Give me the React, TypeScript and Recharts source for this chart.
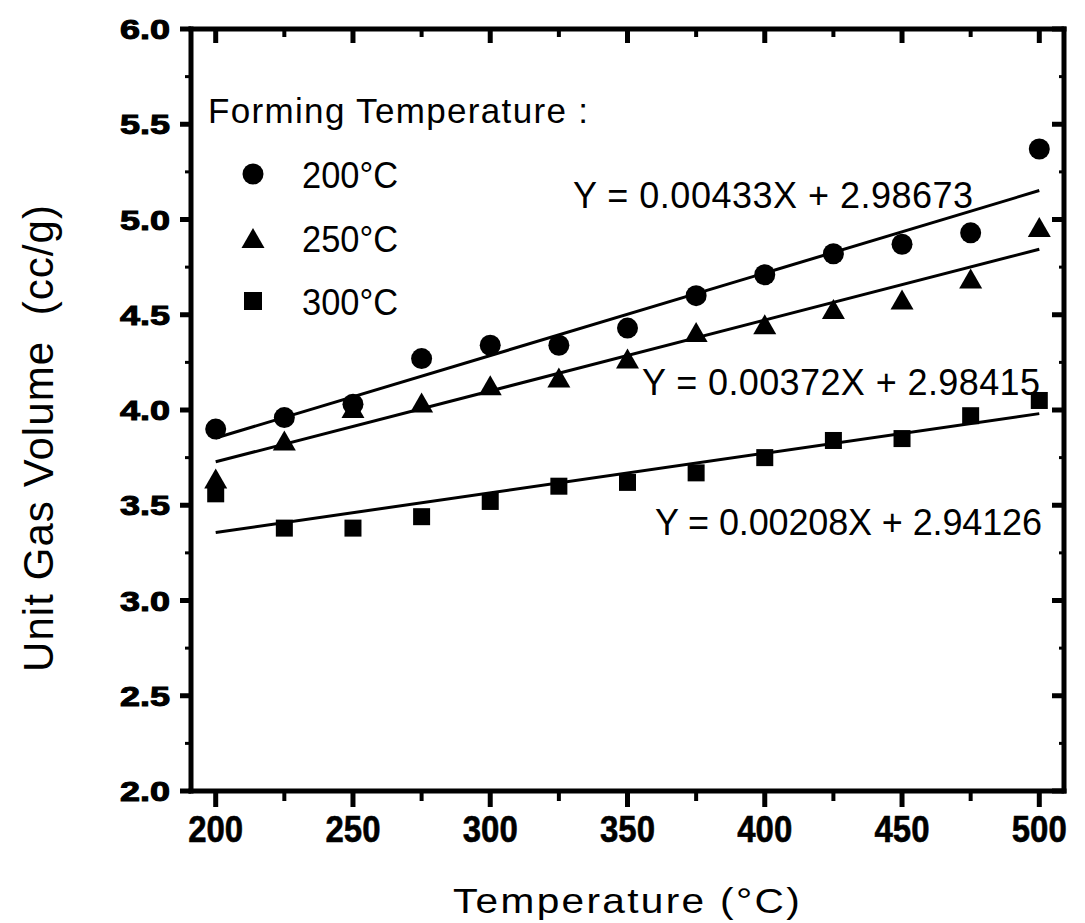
import React from 'react';
import { ComposedChart, XAxis, YAxis, Line, Scatter, Legend } from 'recharts';

// ---------------- data ----------------
const temperatures = [200, 225, 250, 275, 300, 325, 350, 375, 400, 425, 450, 475, 500];
const volume200 = [3.9, 3.96, 4.03, 4.27, 4.34, 4.34, 4.43, 4.6, 4.71, 4.82, 4.87, 4.93, 5.37];
const volume250 = [3.64, 3.84, 4.01, 4.04, 4.13, 4.17, 4.27, 4.41, 4.45, 4.53, 4.58, 4.69, 4.96];
const volume300 = [3.56, 3.38, 3.38, 3.44, 3.52, 3.6, 3.62, 3.67, 3.75, 3.84, 3.85, 3.97, 4.05];

const fitX = [200, 500];
const fit200Y = [3.853, 5.152];
const fit250Y = [3.728, 4.844];
const fit300Y = [3.357, 3.981];

const xTicks = [200, 225, 250, 275, 300, 325, 350, 375, 400, 425, 450, 475, 500];
const yTicks = [2, 2.25, 2.5, 2.75, 3, 3.25, 3.5, 3.75, 4, 4.25, 4.5, 4.75, 5, 5.25, 5.5, 5.75, 6];
const xDomain = [191, 509];
const yDomain = [2, 6];

const seriesNames = ['200°C', '250°C', '300°C'];
const legendTitle = 'Forming Temperature :';
const equations = ['Y = 0.00433X + 2.98673', 'Y = 0.00372X + 2.98415', 'Y = 0.00208X + 2.94126'];
const xTitle = 'Temperature (°C)';
const yTitle = 'Unit Gas Volume  (cc/g)';

const toPoints = (xs: number[], ys: number[]) => xs.map((x, i) => ({ x, y: ys[i] }));
const s200 = toPoints(temperatures, volume200);
const s250 = toPoints(temperatures, volume250);
const s300 = toPoints(temperatures, volume300);
const f200 = toPoints(fitX, fit200Y);
const f250 = toPoints(fitX, fit250Y);
const f300 = toPoints(fitX, fit300Y);

// ---------------- styles ----------------
const W = 1077;
const H = 915;
const BLACK = '#000';
const textFont = '"Liberation Sans", Arial, Helvetica, sans-serif';
const tickFont = '"Liberation Sans Narrow", "Liberation Sans", Arial, sans-serif';
const axisLineStyle = { stroke: BLACK, strokeWidth: 5, strokeLinecap: 'square' as const };

const isMajorX = (v: number) => Math.abs(v % 50) < 1e-6;
const isMajorY = (v: number) => Math.abs(v * 2 - Math.round(v * 2)) < 1e-6;

// ---------------- ticks ----------------
const BottomTick = (props: any) => {
  const { x, y, payload } = props;
  const v = payload.value;
  const major = isMajorX(v);
  return (
    <g>
      <line x1={x} y1={y} x2={x} y2={y + (major ? 16 : 10)} stroke={BLACK} strokeWidth={major ? 5 : 4} />
      {major && (
        <text x={x} y={y + 51} textAnchor="middle" fontFamily={tickFont} fontWeight="bold" fontSize={37}
          fill={BLACK} stroke={BLACK} strokeWidth={0.6} textLength={55} lengthAdjust="spacingAndGlyphs">{v}</text>
      )}
    </g>
  );
};

const TopTick = (props: any) => {
  const { x, y, payload } = props;
  const major = isMajorX(payload.value);
  return <line x1={x} y1={y} x2={x} y2={y + (major ? 14 : 8)} stroke={BLACK} strokeWidth={major ? 5 : 4} />;
};

const LeftTick = (props: any) => {
  const { x, y, payload } = props;
  const v = payload.value;
  const major = isMajorY(v);
  return (
    <g>
      <line x1={x} y1={y} x2={x - (major ? 11 : 6)} y2={y} stroke={BLACK} strokeWidth={major ? 5 : 3} />
      {major && (
        <text x={x - 21} y={y + 10} textAnchor="end" fontFamily={textFont} fontWeight="bold" fontSize={27}
          fill={BLACK} stroke={BLACK} strokeWidth={1} textLength={50} lengthAdjust="spacingAndGlyphs">{v.toFixed(1)}</text>
      )}
    </g>
  );
};

const RightTick = (props: any) => {
  const { x, y, payload } = props;
  const major = isMajorY(payload.value);
  return <line x1={x} y1={y} x2={x - (major ? 12 : 5)} y2={y} stroke={BLACK} strokeWidth={major ? 5 : 3} />;
};

// ---------------- markers ----------------
const CircleMark = (p: any) => <circle cx={p.cx} cy={p.cy} r={10.5} fill={BLACK} />;
const TriangleMark = (p: any) => (
  <polygon points={`${p.cx},${p.cy - 10} ${p.cx + 11.5},${p.cy + 10} ${p.cx - 11.5},${p.cy + 10}`} fill={BLACK} />
);
const SquareMark = (p: any) => <rect x={p.cx - 8.5} y={p.cy - 8.5} width={17} height={17} fill={BLACK} />;

// ---------------- legend ----------------
const LegendBlock = () => {
  const rows = [
    { base: 108, mark: <circle cx={53} cy={94} r={10.5} fill={BLACK} /> },
    { base: 172, mark: <polygon points={`53,148 64.5,168 41.5,168`} fill={BLACK} /> },
    { base: 235, mark: <rect x={44} y={212} width={18} height={18} fill={BLACK} /> },
  ];
  return (
    <svg width={420} height={250} style={{ display: 'block', overflow: 'visible' }}>
      <text x={8} y={43} fontFamily={textFont} fontSize={35} fill={BLACK} textLength={380} lengthAdjust="spacing">
        {legendTitle}
      </text>
      {rows.map((r, i) => (
        <g key={i}>
          {r.mark}
          <text x={102} y={r.base} fontFamily={textFont} fontSize={37} fill={BLACK} textLength={96} lengthAdjust="spacingAndGlyphs">
            {seriesNames[i]}
          </text>
        </g>
      ))}
    </svg>
  );
};

// ---------------- chart ----------------
export default function App() {
  const eqPos = [
    { x: 565, y: 200, len: 400 },
    { x: 634, y: 387, len: 398 },
    { x: 647, y: 527, len: 387 },
  ];
  return (
    <div style={{ position: 'relative', width: W, height: H, background: '#fff' }}>
      <ComposedChart width={W} height={H} margin={{ top: 0, right: 0, bottom: 0, left: 0 }}>
        <XAxis xAxisId="b" type="number" dataKey="x" orientation="bottom" domain={xDomain} allowDataOverflow
          ticks={xTicks} interval={0} height={132} tickSize={0} tickMargin={0} tickLine={false}
          axisLine={axisLineStyle} tick={BottomTick} />
        <XAxis xAxisId="t" type="number" dataKey="x" orientation="top" domain={xDomain} allowDataOverflow
          ticks={xTicks} interval={0} height={21} tickSize={0} tickMargin={0} tickLine={false}
          axisLine={axisLineStyle} tick={TopTick} />
        <YAxis yAxisId="l" type="number" orientation="left" domain={yDomain} allowDataOverflow
          ticks={yTicks} interval={0} width={183} tickSize={0} tickMargin={0} tickLine={false}
          axisLine={axisLineStyle} tick={LeftTick} />
        <YAxis yAxisId="r" type="number" orientation="right" domain={yDomain} allowDataOverflow
          ticks={yTicks} interval={0} width={21} tickSize={0} tickMargin={0} tickLine={false}
          axisLine={axisLineStyle} tick={RightTick} />

        <Legend layout="vertical" align="center" verticalAlign="middle"
          wrapperStyle={{ left: 192, top: 72, width: 420, height: 250 }} content={() => <LegendBlock />} />

        <Line xAxisId="b" yAxisId="l" data={f200} dataKey="y" type="linear" stroke={BLACK} strokeWidth={3}
          dot={false} activeDot={false} isAnimationActive={false} />
        <Line xAxisId="b" yAxisId="l" data={f250} dataKey="y" type="linear" stroke={BLACK} strokeWidth={3}
          dot={false} activeDot={false} isAnimationActive={false} />
        <Line xAxisId="b" yAxisId="l" data={f300} dataKey="y" type="linear" stroke={BLACK} strokeWidth={3}
          dot={false} activeDot={false} isAnimationActive={false} />

        <Scatter xAxisId="b" yAxisId="l" name={seriesNames[2]} data={s300} dataKey="y" shape={SquareMark} isAnimationActive={false} />
        <Scatter xAxisId="b" yAxisId="l" name={seriesNames[0]} data={s200} dataKey="y" shape={CircleMark} isAnimationActive={false} />
        <Scatter xAxisId="b" yAxisId="l" name={seriesNames[1]} data={s250} dataKey="y" shape={TriangleMark} isAnimationActive={false} />
      </ComposedChart>

      <svg width={W} height={H} style={{ position: 'absolute', left: 0, top: 0, pointerEvents: 'none' }}>
        {equations.map((eq, i) => (
          <text key={i} x={eqPos[i].x} y={eqPos[i].y} fontFamily={textFont} fontSize={36} fill={BLACK}
            textLength={eqPos[i].len} lengthAdjust="spacing">{eq}</text>
        ))}
        <text x={619.5} y={905} textAnchor="middle" fontFamily={textFont} fontSize={35} fill={BLACK}
          textLength={349} lengthAdjust="spacingAndGlyphs" letterSpacing={2}>{xTitle}</text>
        <text transform="translate(45,430.5) rotate(-90)" x={0} y={0} textAnchor="middle" fontFamily={textFont}
          fontSize={42} fill={BLACK} textLength={467} lengthAdjust="spacing" style={{ whiteSpace: 'pre' }}>{yTitle}</text>
      </svg>
    </div>
  );
}
